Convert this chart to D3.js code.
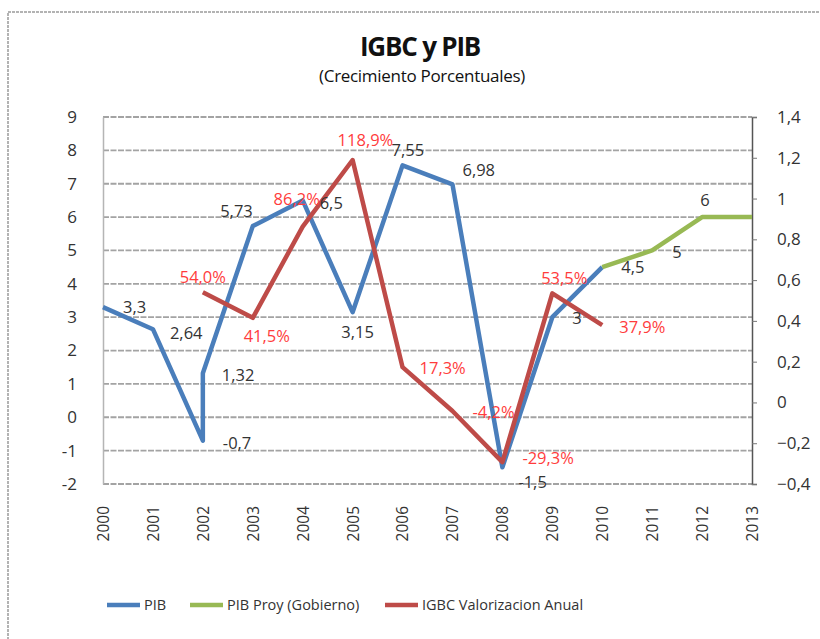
<!DOCTYPE html>
<html>
<head>
<meta charset="utf-8">
<script src="https://cdn.jsdelivr.net/npm/d3@7"></script>
<style>
  body { margin: 0; background: #fff; }
  svg { display: block; font-family: "Open Sans", sans-serif; }
</style>
</head>
<body>
<svg id="chart" width="820" height="639"></svg>
<script>
// data
const years = [2000, 2001, 2002, 2003, 2004, 2005, 2006, 2007, 2008, 2009, 2010, 2011, 2012, 2013];
// PIB has two points on 2002 (-0,7 then 1,32)
const pibYears  = [2000, 2001, 2002, 2002, 2003, 2004, 2005, 2006, 2007, 2008, 2009, 2010];
const pibValues = [3.3, 2.64, -0.7, 1.32, 5.73, 6.5, 3.15, 7.55, 6.98, -1.5, 3, 4.5];
const pibLabels = ["3,3", "2,64", "-0,7", "1,32", "5,73", "6,5", "3,15", "7,55", "6,98", "-1,5", "3", "4,5"];
const proyYears  = [2010, 2011, 2012, 2013];
const proyValues = [4.5, 5, 6, 6];
const proyLabels = ["", "5", "6", ""];
const igbcYears  = [2002, 2003, 2004, 2005, 2006, 2007, 2008, 2009, 2010];
const igbcValues = [0.54, 0.415, 0.862, 1.189, 0.173, -0.042, -0.293, 0.535, 0.379];
const igbcLabels = ["54,0%", "41,5%", "86,2%", "118,9%", "17,3%", "-4,2%", "-29,3%", "53,5%", "37,9%"];
const leftTicks  = [-2, -1, 0, 1, 2, 3, 4, 5, 6, 7, 8, 9];
const rightTicks = [-0.4, -0.2, 0, 0.2, 0.4, 0.6, 0.8, 1, 1.2, 1.4];
const seriesNames = ["PIB", "PIB Proy (Gobierno)", "IGBC Valorizacion Anual"];

// label placement (anchor, dx, dy) per point
const pibLabelPos = [["start", 20, 0], ["start", 17, 4], ["start", 20, 3], ["start", 19, 2], ["end", 0, -15],
  ["start", 17, 3], ["middle", 5, 20], ["start", -11, -15], ["start", 10, -14], ["start", 16, 15], ["start", 20, 1], ["start", 19, 0]];
const proyLabelPos = [["start", 0, 0], ["start", 20, 2], ["middle", 3, -17], ["start", 0, 0]];
const igbcLabelPos = [["middle", 0, -15], ["middle", 14, 18], ["middle", -6, -27], ["start", -15, -20], ["start", 17, 1],
  ["start", 20, 1], ["start", 20, -4], ["middle", 12, -15], ["start", 17, 2]];

const blue = "#4a7ebb", green = "#98b954", red = "#be4b48";
const labelRed = "#ff3c3c", labelDark = "#333";

const svg = d3.select("#chart");
const plotLeft = 103, plotRight = 752, plotTop = 117, plotBottom = 484;

const x = d3.scalePoint().domain(years).range([plotLeft, plotRight]);
const yL = d3.scaleLinear().domain([-2, 9]).range([plotBottom, plotTop]);
const yR = d3.scaleLinear().domain([-0.4, 1.4]).range([plotBottom, plotTop]);
const fmt = v => d3.format("")(+v.toFixed(1)).replace(".", ",");

// chart border
svg.append("rect")
  .attr("x", 8).attr("y", 12).attr("width", 830).attr("height", 650)
  .attr("fill", "none").attr("stroke", "#9a9a9a").attr("stroke-width", 1.5)
  .attr("stroke-dasharray", "3,1");

// title
svg.append("text").attr("x", 420).attr("y", 56).attr("text-anchor", "middle")
  .attr("font-size", 26).attr("font-weight", "bold").attr("letter-spacing", -1.2)
  .attr("fill", "#111").text("IGBC y PIB");
svg.append("text").attr("x", 422).attr("y", 82).attr("text-anchor", "middle")
  .attr("font-size", 17).attr("letter-spacing", -0.3).attr("fill", "#111")
  .text("(Crecimiento Porcentuales)");

// gridlines
svg.append("g").selectAll("line").data(leftTicks).join("line")
  .attr("x1", plotLeft).attr("x2", plotRight)
  .attr("y1", d => yL(d)).attr("y2", d => yL(d))
  .attr("stroke", "#a3a3a3").attr("stroke-width", 1.8).attr("stroke-dasharray", "6,1.5");

// left axis
const gL = svg.append("g").attr("transform", `translate(${plotLeft},0)`)
  .call(d3.axisLeft(yL).tickValues(leftTicks).tickSize(0).tickPadding(26).tickFormat(d => String(d)));
gL.select(".domain").attr("stroke", "#b5b5b5").attr("stroke-width", 1.5);
gL.selectAll("text").attr("font-size", 17).attr("fill", "#333").attr("font-family", "Open Sans, sans-serif");

// right axis
const gR = svg.append("g").attr("transform", `translate(${plotRight},0)`)
  .call(d3.axisRight(yR).tickValues(rightTicks).tickSize(5).tickPadding(20).tickFormat(fmt));
gR.select(".domain").attr("stroke", "#555").attr("stroke-width", 1.5);
gR.selectAll(".tick line").attr("stroke", "#777");
gR.selectAll("text").attr("font-size", 17).attr("fill", "#333").attr("font-family", "Open Sans, sans-serif");

// x labels (rotated)
const gX = svg.append("g").attr("transform", `translate(0,${plotBottom})`)
  .call(d3.axisBottom(x).tickSize(0).tickPadding(0));
gX.select(".domain").remove();
gX.selectAll("text")
  .attr("font-size", 15.5).attr("fill", "#333").attr("font-family", "Open Sans, sans-serif")
  .attr("text-anchor", "end").attr("y", 0).attr("dy", "0.35em")
  .attr("transform", "translate(0,22) rotate(-90)");

// lines
const line = (yScale) => d3.line().x(d => x(d[0])).y(d => yScale(d[1]));
const pibPts = pibYears.map((yr, i) => [yr, pibValues[i]]);
const proyPts = proyYears.map((yr, i) => [yr, proyValues[i]]);
const igbcPts = igbcYears.map((yr, i) => [yr, igbcValues[i]]);

svg.append("path").datum(pibPts).attr("d", line(yL))
  .attr("fill", "none").attr("stroke", blue).attr("stroke-width", 4.5).attr("stroke-linejoin", "round");
svg.append("path").datum(proyPts).attr("d", line(yL))
  .attr("fill", "none").attr("stroke", green).attr("stroke-width", 4.5).attr("stroke-linejoin", "round");
svg.append("path").datum(igbcPts).attr("d", line(yR))
  .attr("fill", "none").attr("stroke", red).attr("stroke-width", 4.5).attr("stroke-linejoin", "round");

// data labels
function addLabels(pts, labels, pos, yScale, color) {
  svg.append("g").selectAll("text").data(pts).join("text")
    .attr("x", (d, i) => x(d[0]) + pos[i][1])
    .attr("y", (d, i) => yScale(d[1]) + pos[i][2])
    .attr("dy", "0.35em")
    .attr("text-anchor", (d, i) => pos[i][0])
    .attr("font-size", 16.5).attr("fill", color)
    .text((d, i) => labels[i]);
}
addLabels(pibPts, pibLabels, pibLabelPos, yL, labelDark);
addLabels(proyPts, proyLabels, proyLabelPos, yL, labelDark);
addLabels(igbcPts, igbcLabels, igbcLabelPos, yR, labelRed);

// legend
const legendX = [107, 190, 385];
const legendColors = [blue, green, red];
const lg = svg.append("g").selectAll("g").data(seriesNames).join("g")
  .attr("transform", (d, i) => `translate(${legendX[i]},605)`);
lg.append("line").attr("x1", 0).attr("x2", 33).attr("y1", 0).attr("y2", 0)
  .attr("stroke", (d, i) => legendColors[i]).attr("stroke-width", 4.5);
lg.append("text").attr("x", 37).attr("dy", "0.35em")
  .attr("font-size", 14.5).attr("fill", "#333").text(d => d);
</script>
</body>
</html>
